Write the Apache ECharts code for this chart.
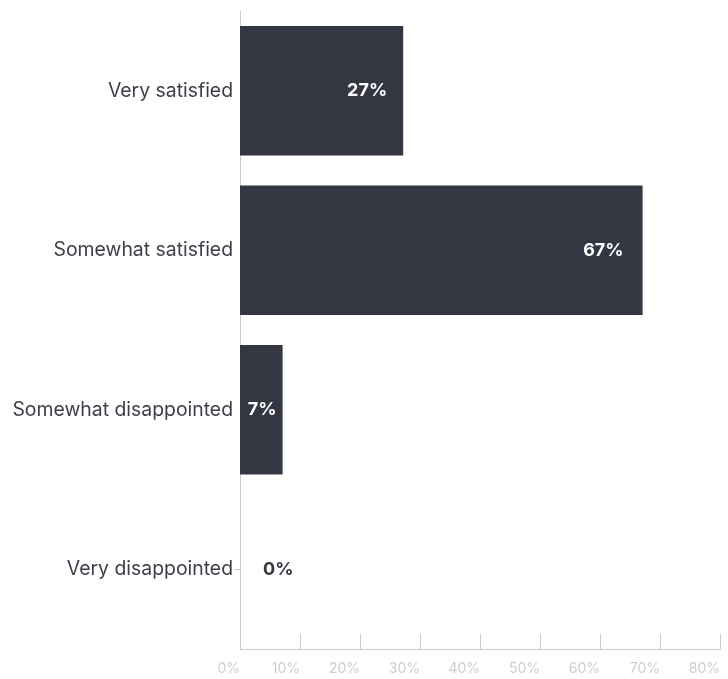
<!DOCTYPE html>
<html>
<head>
<meta charset="utf-8">
<script src="https://cdn.jsdelivr.net/npm/echarts@6/dist/echarts.min.js"></script>
<style>
html,body{margin:0;padding:0;background:#fff;}
#chart{width:728px;height:679px;}
</style>
</head>
<body>
<div id="chart"></div>
<script>
const categories = ['Very satisfied', 'Somewhat satisfied', 'Somewhat disappointed', 'Very disappointed'];
const values = [27.2, 67.1, 7.1, 0];
const valueLabels = ['27%', '67%', '7%', '0%'];
const xTicks = [0, 10, 20, 30, 40, 50, 60, 70, 80];

const labelDist = [16, 19, 6, 23];
const chart = echarts.init(document.getElementById('chart'));
const data = values.map((v, i) => {
  const zero = v === 0;
  return {
    value: v,
    label: {
      show: true,
      position: zero ? 'right' : 'insideRight',
      distance: labelDist[i],
      color: zero ? '#343741' : '#ffffff',
      fontFamily: 'Inter',
      fontWeight: 'bold',
      fontSize: 18,
      padding: [2, 0, 0, 0],
      formatter: () => valueLabels[i]
    }
  };
});

chart.setOption({
  animation: false,
  grid: { left: 240, right: 8, top: 11, bottom: 30, containLabel: false },
  xAxis: {
    type: 'value',
    min: xTicks[0],
    max: xTicks[xTicks.length - 1],
    interval: 10,
    axisLine: { show: true, lineStyle: { color: '#cccccc', width: 1 } },
    axisTick: { show: true, inside: true, length: 15, lineStyle: { color: '#cccccc' } },
    splitLine: { show: false },
    axisLabel: {
      formatter: '{value}%', align: 'right', margin: 13,
      color: '#cdcdcd', fontFamily: 'Inter', fontSize: 14
    }
  },
  yAxis: {
    type: 'category',
    data: categories,
    inverse: true,
    axisLine: { show: true, lineStyle: { color: '#cccccc', width: 1 } },
    axisTick: {
      show: true, alignWithLabel: true, length: 6,
      interval: (idx) => values[idx] === 0,
      lineStyle: { color: '#cccccc' }
    },
    axisLabel: { color: '#3b3f49', fontFamily: 'Inter', fontSize: 19.4, margin: 7, padding: [8, 0, 0, 0] }
  },
  series: [{
    type: 'bar',
    data: data,
    barCategoryGap: '18.75%',
    itemStyle: { color: '#343741' }
  }]
});
</script>
</body>
</html>
